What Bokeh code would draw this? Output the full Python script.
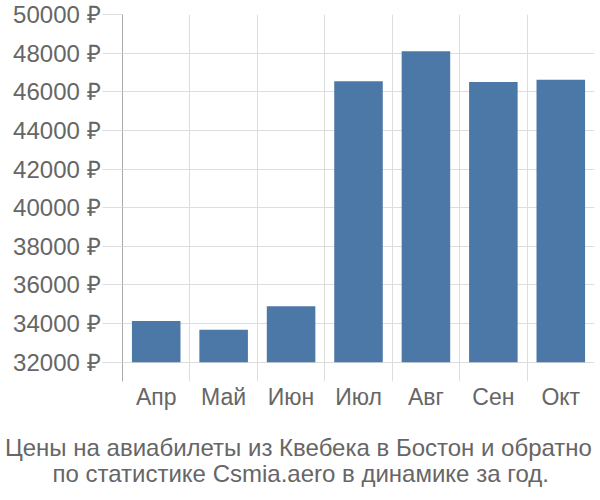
from bokeh.plotting import figure
from bokeh.models import FixedTicker, Range1d, ColumnDataSource, Title
from bokeh.embed import file_html
from bokeh.resources import INLINE

months = ["Апр", "Май", "Июн", "Июл", "Авг", "Сен", "Окт"]
prices = [34130, 33680, 34890, 46540, 48100, 46500, 46620]
y_ticks = [32000, 34000, 36000, 38000, 40000, 42000, 44000, 46000, 48000, 50000]
y_tick_labels = [f"{v} ₽" for v in y_ticks]
title_lines = ["Цены на авиабилеты из Квебека в Бостон и обратно",
               "по статистике Csmia.aero в динамике за год."]
# approximate rendered widths (px) of the caption lines, used to centre them on the canvas
title_widths = [591, 496]

FONT = "Liberation Sans"
TEXT = "#666666"
GRID = "#dddddd"
W, H = 600, 500
LEFT = 122

xs = [i + 0.5 for i in range(len(months))]
src = ColumnDataSource(dict(x=xs, top=prices, bottom=[32000] * len(prices)))

p = figure(width=W, height=H, output_backend="svg", toolbar_location=None,
           x_range=Range1d(0, len(months)), y_range=Range1d(31000, 50000),
           min_border_left=LEFT, min_border_right=6, min_border_top=14,
           min_border_bottom=119)
p.outline_line_color = None
p.background_fill_color = "white"
p.border_fill_color = "white"

p.vbar(x="x", top="top", bottom="bottom", width=0.72, source=src,
       fill_color="#4c78a8", line_color=None)

# y axis
p.yaxis.ticker = FixedTicker(ticks=y_ticks)
p.yaxis.major_label_overrides = dict(zip(y_ticks, y_tick_labels))
p.yaxis.axis_line_color = "#aaaaaa"
p.yaxis.major_tick_out = 20
p.yaxis.major_tick_in = 0
p.yaxis.major_tick_line_color = GRID
p.yaxis.minor_tick_line_color = None
p.yaxis.major_label_standoff = 2
p.yaxis.major_label_text_font = FONT
p.yaxis.major_label_text_font_size = "24px"
p.yaxis.major_label_text_color = TEXT
p.ygrid.ticker = FixedTicker(ticks=y_ticks)
p.ygrid.grid_line_color = GRID

# x axis
p.xaxis.ticker = FixedTicker(ticks=xs)
p.xaxis.major_label_overrides = dict(zip(xs, months))
p.xaxis.axis_line_color = None
p.xaxis.major_tick_line_color = None
p.xaxis.minor_tick_line_color = None
p.xaxis.major_label_standoff = -4
p.xaxis.major_label_text_font = FONT
p.xaxis.major_label_text_font_size = "23px"
p.xaxis.major_label_text_color = TEXT
p.xgrid.ticker = FixedTicker(ticks=list(range(len(months) + 1)))
p.xgrid.grid_line_color = GRID

# caption: two titles below, each centred on the full canvas width
for line, w, so in zip(title_lines, title_widths, [42, -48]):
    t = Title(text=line, align="left", offset=(W - w) / 2 - LEFT,
              vertical_align="top", standoff=so,
              text_font=FONT, text_font_size="24px", text_color=TEXT,
              text_font_style="normal")
    p.add_layout(t, "below")

open("out.html", "w").write(file_html(p, INLINE))
